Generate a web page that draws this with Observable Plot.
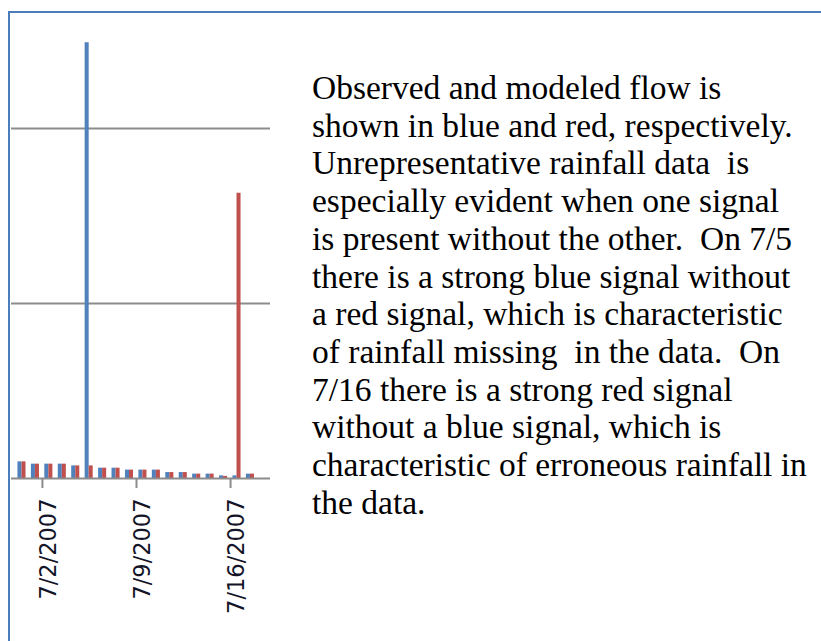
<!DOCTYPE html>
<html>
<head>
<meta charset="utf-8">
<script src="https://cdn.jsdelivr.net/npm/d3@7"></script>
<script src="https://cdn.jsdelivr.net/npm/@observablehq/plot@0.6"></script>
<style>
  html, body { margin: 0; padding: 0; background: #fff; }
  #wrap { position: relative; width: 821px; height: 641px; overflow: hidden; background: #fff; }
  #frame { position: absolute; left: 8px; top: 11px; right: 0; bottom: 0;
           border-top: 2px solid #4a7ebb; border-left: 2px solid #4a7ebb; }
  #chart { position: absolute; left: 0; top: 0; }
  #note { position: absolute; left: 312px; top: 69px; font-family: "Liberation Serif", "Times New Roman", serif;
          font-size: 33.5px; line-height: 37.7px; color: #000; white-space: pre; }
</style>
</head>
<body>
<div id="wrap">
  <div id="chart"></div>
  <div id="frame"></div>
  <div id="note">Observed and modeled flow is
shown in blue and red, respectively.
Unrepresentative rainfall data  is
especially evident when one signal
is present without the other.  On 7/5
there is a strong blue signal without
a red signal, which is characteristic
of rainfall missing  in the data.  On
7/16 there is a strong red signal
without a blue signal, which is
characteristic of erroneous rainfall in
the data.</div>
</div>
<script>
// Daily series, 6/30/2007 – 7/17/2007
const days = ["2007-06-30","2007-07-01","2007-07-02","2007-07-03","2007-07-04","2007-07-05",
              "2007-07-06","2007-07-07","2007-07-08","2007-07-09","2007-07-10","2007-07-11",
              "2007-07-12","2007-07-13","2007-07-14","2007-07-15","2007-07-16","2007-07-17"];
const observed = [9.5, 8.2, 8.2, 8.2, 7.2, 249, 5.9, 5.9, 4.8, 4.8, 4.8, 3.4, 3.4, 2.5, 2.5, 1.5, 1.5, 2.5];
const modeled  = [9.5, 8.2, 8.2, 8.2, 7.2, 7.2, 5.9, 5.9, 4.8, 4.8, 4.8, 3.4, 3.4, 2.5, 2.5, 1.2, 163, 2.5];
const tickDays   = ["2007-07-02", "2007-07-09", "2007-07-16"];
const tickLabels = ["7/2/2007", "7/9/2007", "7/16/2007"];
const gridValues = [100, 200];

const DAY = 864e5;
const parse = d3.utcParse("%Y-%m-%d");
const rows = [];
days.forEach((d, i) => {
  const t = +parse(d);
  rows.push({series: "Observed", date: t, x1: new Date(t + 0.18 * DAY), x2: new Date(t + 0.48 * DAY), value: observed[i]});
  rows.push({series: "Modeled",  date: t, x1: new Date(t + 0.48 * DAY), x2: new Date(t + 0.78 * DAY), value: modeled[i]});
});
const tickDates = tickDays.map(parse);
const labelDates = tickDates.map(d => new Date(+d + 0.5 * DAY));
const labelOf = new Map(labelDates.map((d, i) => [+d, tickLabels[i]]));

const chart = Plot.plot({
  width: 280,
  height: 641,
  marginLeft: 11,
  marginRight: 10,
  marginTop: 40.5,
  marginBottom: 163,
  x: {type: "utc", domain: [new Date(Date.UTC(2007, 5, 29, 16, 48)), new Date(Date.UTC(2007, 6, 18, 23, 20))]},
  y: {domain: [0, 250], axis: null},
  color: {domain: ["Observed", "Modeled"], range: ["#4f81bd", "#c0504d"]},
  marks: [
    Plot.gridY(gridValues, {stroke: "#8c8c8c", strokeOpacity: 1, strokeWidth: 2}),
    Plot.rectY(rows, {x1: "x1", x2: "x2", y: "value", fill: "series"}),
    Plot.ruleY([0], {stroke: "#8c8c8c", strokeWidth: 2}),
    Plot.axisX({ticks: tickDates, tickSize: 10, tickFormat: () => "", stroke: "#8c8c8c", strokeWidth: 2, label: null}),
    Plot.axisX({ticks: labelDates, tickSize: 0, tickPadding: 20, tickRotate: -90,
                tickFormat: d => labelOf.get(+d), label: null,
                fontSize: 22.5, fontFamily: "DejaVu Sans, Verdana, sans-serif", fill: "#141428"})
  ]
});
document.getElementById("chart").appendChild(chart);
</script>
</body>
</html>
